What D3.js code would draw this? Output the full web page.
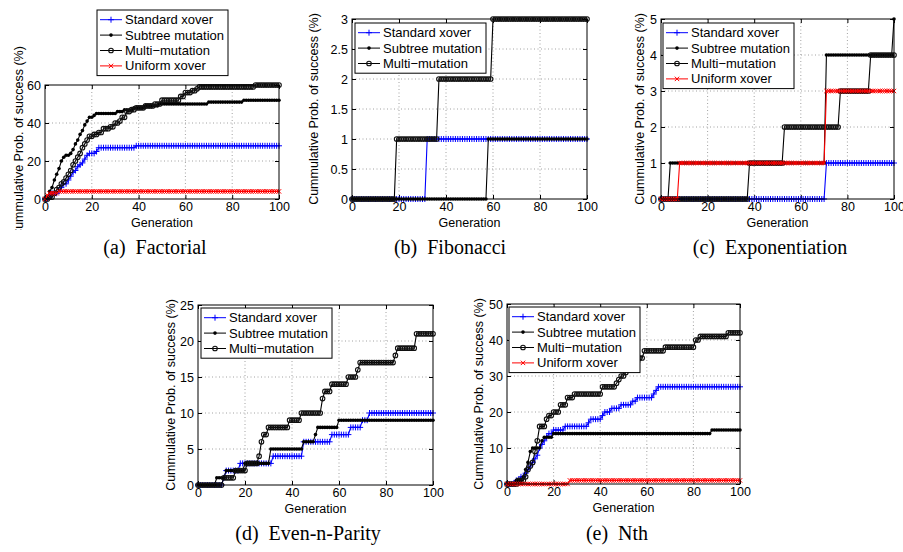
<!DOCTYPE html>
<html>
<head>
<meta charset="utf-8">
<script src="https://cdn.jsdelivr.net/npm/d3@7"></script>
<style>
  body { margin: 0; background: #fff; }
  svg { display: block; }
  text { font-family: "Liberation Sans", Arial, Helvetica, sans-serif; }
  .caption { font-family: "Liberation Serif", "Times New Roman", serif; font-size: 20px; white-space: pre; }
</style>
</head>
<body>
<svg id="fig" width="903" height="552"></svg>
<script>
// generation axis and series names
const gens = d3.range(0, 101);
const seriesNames = ['Standard xover', 'Subtree mutation', 'Multi\u2212mutation', 'Uniform xover'];
const captions = ['(a)  Factorial', '(b)  Fibonacci', '(c)  Exponentiation', '(d)  Even-n-Parity', '(e)  Nth'];
const xTicks = [0, 20, 40, 60, 80, 100];

// cumulative success (%) as [generation where value changes, new value]
const factStd = [[0,0],[2,1],[3,3],[6,4],[7,6],[8,8],[10,10],[11,12],[12,14],[13,15],[14,17],[15,18],[16,19],[17,21],[18,23],[19,24],[22,25],[23,27],[39,28]];
const factSub = [[0,0],[1,1],[2,4],[3,6],[4,10],[5,13],[6,16],[7,20],[8,22],[9,23],[11,24],[12,26],[13,29],[14,31],[15,34],[16,36],[17,39],[18,41],[19,43],[21,44],[22,45],[31,46],[34,47],[38,48],[43,49],[49,50],[70,51],[85,52]];
const factMulti = [[0,0],[2,1],[4,3],[5,5],[6,6],[7,8],[8,9],[9,11],[10,13],[11,15],[12,18],[13,20],[14,22],[15,24],[16,27],[17,29],[18,31],[19,33],[21,34],[23,35],[25,37],[28,38],[30,40],[32,41],[33,43],[35,46],[37,47],[39,48],[43,49],[47,50],[50,52],[58,54],[60,56],[63,57],[65,58],[66,59],[90,60]];
const factUni = [[0,0],[1,2],[2,3],[6,4]];

const fibStd = [[0,0],[32,1]];
const fibSub = [[0,0],[58,1]];
const fibMulti = [[0,0],[19,1],[37,2],[60,3]];

const expStd = [[0,0],[71,1]];
const expSub = [[0,0],[4,1],[71,4],[100,5]];
const expMulti = [[0,0],[38,1],[53,2],[77,3],[90,4]];
const expUni = [[0,0],[8,1],[71,3]];

const parStd = [[0,0],[11,1],[12,2],[18,3],[32,4],[45,6],[57,7],[65,8],[70,9],[73,10]];
const parSub = [[0,0],[8,1],[12,2],[20,3],[31,5],[45,6],[50,7],[51,8],[60,9]];
const parMulti = [[0,0],[11,1],[16,2],[21,3],[26,4],[27,6],[28,7],[30,8],[39,9],[44,10],[53,12],[54,13],[57,14],[64,15],[68,16],[69,17],[84,18],[85,19],[93,21]];

const nthStd = [[0,0],[4,1],[6,2],[8,3],[9,4],[10,5],[11,6],[12,7],[13,8],[14,10],[15,11],[16,12],[17,13],[18,14],[20,15],[25,16],[35,17],[36,18],[41,19],[42,20],[45,21],[49,22],[54,23],[56,24],[63,25],[64,26],[65,27]];
const nthSub = [[0,0],[4,1],[7,2],[8,4],[9,6],[10,9],[11,10],[15,12],[16,13],[20,14],[88,15]];
const nthMulti = [[0,0],[5,1],[8,2],[9,4],[10,5],[11,6],[12,9],[13,12],[14,16],[17,18],[18,19],[20,20],[23,22],[26,24],[29,25],[41,27],[47,28],[48,29],[49,30],[51,31],[52,32],[54,33],[56,34],[57,35],[59,37],[68,38],[81,40],[83,41],[95,42]];
const nthUni = [[0,0],[27,1]];

// series styles: colour + marker
const styles = [
  {color: '#0000ff', marker: 'plus'},
  {color: '#000000', marker: 'dot'},
  {color: '#000000', marker: 'circle'},
  {color: '#ff0000', marker: 'cross'}
];

// panel layout
const panels = [
  {series: [factStd, factSub, factMulti, factUni], ymax: 60, ystep: 20, left: 45, right: 279, top: 85, bottom: 199,
   legend: [97, 10], labelOff: 26, labelClip: 230, cap: [155, 254]},
  {series: [fibStd, fibSub, fibMulti], ymax: 3, ystep: 0.5, left: 352, right: 587, top: 19, bottom: 199,
   legend: [355, 23], labelOff: 38, cap: [450, 254]},
  {series: [expStd, expSub, expMulti, expUni], ymax: 5, ystep: 1, left: 661, right: 894, top: 19, bottom: 199,
   legend: [663, 23], labelOff: 21, cap: [770, 254]},
  {series: [parStd, parSub, parMulti], ymax: 25, ystep: 5, left: 198, right: 433, top: 305, bottom: 485,
   legend: [201, 308], labelOff: 27, cap: [308, 540]},
  {series: [nthStd, nthSub, nthMulti, nthUni], ymax: 50, ystep: 10, left: 507, right: 740, top: 304, bottom: 484,
   legend: [509, 307], labelOff: 28, cap: [617, 540]}
];

// value held at each generation
function expand(steps) {
  return gens.map(g => {
    let v = 0;
    for (const [sg, sv] of steps) if (sg <= g) v = sv;
    return [g, v];
  });
}

function markerPath(type) {
  if (type === 'plus') return 'M-3,0H3M0,-3V3';
  if (type === 'cross') return 'M-2.2,-2.2L2.2,2.2M-2.2,2.2L2.2,-2.2';
  return null;
}

function drawMarkers(sel, pts, st) {
  if (st.marker === 'dot') {
    sel.selectAll('circle').data(pts).enter().append('circle')
      .attr('cx', d => d[0]).attr('cy', d => d[1]).attr('r', 1.8)
      .attr('fill', st.color);
  } else if (st.marker === 'circle') {
    sel.selectAll('circle').data(pts).enter().append('circle')
      .attr('cx', d => d[0]).attr('cy', d => d[1]).attr('r', 2.3)
      .attr('fill', 'none').attr('stroke', '#111').attr('stroke-width', 1.1);
  } else {
    sel.selectAll('path').data(pts).enter().append('path')
      .attr('transform', d => 'translate(' + d[0] + ',' + d[1] + ')')
      .attr('d', markerPath(st.marker))
      .attr('fill', 'none').attr('stroke', st.color).attr('stroke-width', 1);
  }
}

const svg = d3.select('#fig');
svg.append('rect').attr('width', 903).attr('height', 552).attr('fill', '#fff');

const defs = svg.append('defs');

panels.forEach((p, pi) => {
  const g = svg.append('g');
  const x = d3.scaleLinear().domain([0, 100]).range([p.left, p.right]);
  const y = d3.scaleLinear().domain([0, p.ymax]).range([p.bottom, p.top]);
  const yTicks = d3.range(0, p.ymax + p.ystep / 2, p.ystep);

  // dotted grid
  g.append('g').selectAll('line').data(xTicks.slice(1, -1)).enter().append('line')
    .attr('x1', d => x(d)).attr('x2', d => x(d)).attr('y1', p.top).attr('y2', p.bottom)
    .attr('stroke', '#8a8a8a').attr('stroke-width', 0.8).attr('stroke-dasharray', '1,2.5');
  g.append('g').selectAll('line').data(yTicks.slice(1, -1)).enter().append('line')
    .attr('y1', d => y(d)).attr('y2', d => y(d)).attr('x1', p.left).attr('x2', p.right)
    .attr('stroke', '#8a8a8a').attr('stroke-width', 0.8).attr('stroke-dasharray', '1,2.5');

  // axes with inward ticks on all sides
  const axB = g.append('g').attr('transform', 'translate(0,' + p.bottom + ')')
    .call(d3.axisBottom(x).tickValues(xTicks).tickSizeInner(-4).tickSizeOuter(0).tickPadding(3).tickFormat(d3.format('d')));
  const axL = g.append('g').attr('transform', 'translate(' + p.left + ',0)')
    .call(d3.axisLeft(y).tickValues(yTicks).tickSizeInner(-4).tickSizeOuter(0).tickPadding(4).tickFormat(d => String(+d.toFixed(2))));
  const axT = g.append('g').attr('transform', 'translate(0,' + p.top + ')')
    .call(d3.axisTop(x).tickValues(xTicks).tickSizeInner(-4).tickSizeOuter(0).tickFormat(''));
  const axR = g.append('g').attr('transform', 'translate(' + p.right + ',0)')
    .call(d3.axisRight(y).tickValues(yTicks).tickSizeInner(-4).tickSizeOuter(0).tickFormat(''));
  [axB, axL, axT, axR].forEach(a => {
    a.select('.domain').remove();
    a.selectAll('line').attr('stroke', '#000');
    a.selectAll('text').attr('font-size', 12.5).attr('fill', '#000')
      .attr('font-family', '"Liberation Sans", Arial, sans-serif');
  });

  // series
  const line = d3.line().x(d => x(d[0])).y(d => y(d[1]));
  p.series.forEach((s, si) => {
    const st = styles[si];
    const data = expand(s);
    const sg = g.append('g');
    sg.append('path').datum(data).attr('d', line)
      .attr('fill', 'none').attr('stroke', st.color).attr('stroke-width', 1.1);
    drawMarkers(sg.append('g'), data.map(d => [x(d[0]), y(d[1])]), st);
  });

  // box
  g.append('rect').attr('x', p.left).attr('y', p.top)
    .attr('width', p.right - p.left).attr('height', p.bottom - p.top)
    .attr('fill', 'none').attr('stroke', '#000').attr('stroke-width', 1);

  // axis labels
  g.append('text').attr('x', (p.left + p.right) / 2).attr('y', p.bottom + 27.5)
    .attr('text-anchor', 'middle').attr('font-size', 12.5).text('Generation');
  const yl = g.append('text')
    .attr('transform', 'translate(' + (p.left - p.labelOff) + ',' + ((p.top + p.bottom) / 2) + ') rotate(-90)')
    .attr('text-anchor', 'middle').attr('dy', '0.35em').attr('font-size', 12.5)
    .text('Cummulative Prob. of success (%)');
  if (p.labelClip) {
    defs.append('clipPath').attr('id', 'clip' + pi)
      .append('rect').attr('x', 0).attr('y', 0).attr('width', 903).attr('height', p.labelClip);
    g.append('g').attr('clip-path', 'url(#clip' + pi + ')').node().appendChild(yl.node());
  }

  // legend
  const n = p.series.length;
  const lg = g.append('g').attr('transform', 'translate(' + p.legend[0] + ',' + p.legend[1] + ')');
  lg.append('rect').attr('width', 131).attr('height', 19.4 + 15.4 * (n - 1))
    .attr('fill', '#fff').attr('stroke', '#000').attr('stroke-width', 1);
  for (let i = 0; i < n; i++) {
    const ry = 9.7 + 15.4 * i;
    const st = styles[i];
    lg.append('line').attr('x1', 3).attr('x2', 25).attr('y1', ry).attr('y2', ry)
      .attr('stroke', st.color).attr('stroke-width', 1);
    drawMarkers(lg.append('g'), [[14, ry]], st);
    lg.append('text').attr('x', 28).attr('y', ry).attr('dy', '0.35em')
      .attr('font-size', 13).text(seriesNames[i]);
  }

  // caption
  svg.append('text').attr('class', 'caption').attr('x', p.cap[0]).attr('y', p.cap[1])
    .attr('text-anchor', 'middle').text(captions[pi]);
});
</script>
</body>
</html>
